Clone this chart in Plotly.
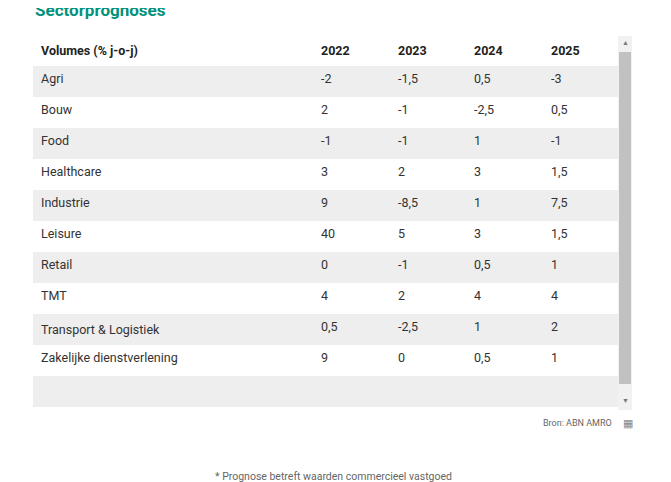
import plotly.graph_objects as go

sectors = ["Agri", "Bouw", "Food", "Healthcare", "Industrie", "Leisure", "Retail", "TMT",
           "Transport & Logistiek", "Zakelijke dienstverlening", "", "Vastgoed*"]
v2022 = ["-2", "2", "-1", "3", "9", "40", "0", "4", "0,5", "9", "", "6"]
v2023 = ["-1,5", "-1", "-1", "2", "-8,5", "5", "-1", "2", "-2,5", "0", "", "-10"]
v2024 = ["0,5", "-2,5", "1", "3", "1", "3", "0,5", "4", "1", "0,5", "", "-3,5"]
v2025 = ["-3", "0,5", "-1", "1,5", "7,5", "1,5", "1", "4", "2", "1", "", "2"]
headers = ["Volumes (% j-o-j)", "2022", "2023", "2024", "2025"]

W, H = 671, 482
DX, DY = -10, -8
fills = ["#eeeeee" if i % 2 == 0 else "#ffffff" for i in range(len(sectors))]

def fx(x):
    return (x + DX) / W

def fy(y):
    return 1 - (y + DY) / H

fig = go.Figure(go.Table(
    domain=dict(x=[fx(35), fx(620)], y=[fy(412), fy(35)]),
    columnwidth=[280, 77, 76, 77, 75],
    header=dict(values=["<b>%s</b>" % h for h in headers], fill_color="white",
                line_color="rgba(0,0,0,0)", align="left", height=31,
                font=dict(family="Roboto", size=12.5, color="#222")),
    cells=dict(values=[sectors, v2022, v2023, v2024, v2025], fill_color=[fills] * 5,
               line_color="rgba(0,0,0,0)", align="left", height=31,
               font=dict(family="Roboto", size=12.5, color="#333")),
))

def px(x0, y0, x1, y1, color):
    return dict(type="rect", xref="paper", yref="paper", x0=fx(x0), x1=fx(x1),
                y0=fy(y1), y1=fy(y0), fillcolor=color, line_width=0, layer="above")

def ann(text, x, y, size, color, xanchor="center", family="Roboto"):
    return dict(text=text, x=fx(x), y=fy(y), xref="paper", yref="paper", xanchor=xanchor,
                yanchor="middle", showarrow=False, font=dict(family=family, size=size, color=color))

fig.update_layout(
    width=W, height=H, margin=dict(l=0, r=0, t=0, b=0), paper_bgcolor="white",
    shapes=[px(620, 36, 634, 410, "#f1f1f1"), px(621, 52, 633, 384, "#c1c1c1")],
    annotations=[
        ann("<b>Sectorprognoses</b>", 35, 10, 17, "#00927c", "left"),
        ann("▲", 627, 43, 7, "#777"),
        ann("▼", 627, 401, 7, "#777"),
        ann("Bron: ABN AMRO", 616, 423, 9, "#666", "right"),
        ann("▦", 630, 423, 11, "#888"),
        ann("* Prognose betreft waarden commercieel vastgoed", 335, 476, 10.5, "#666"),
    ],
)
fig.write_html("out.html")
